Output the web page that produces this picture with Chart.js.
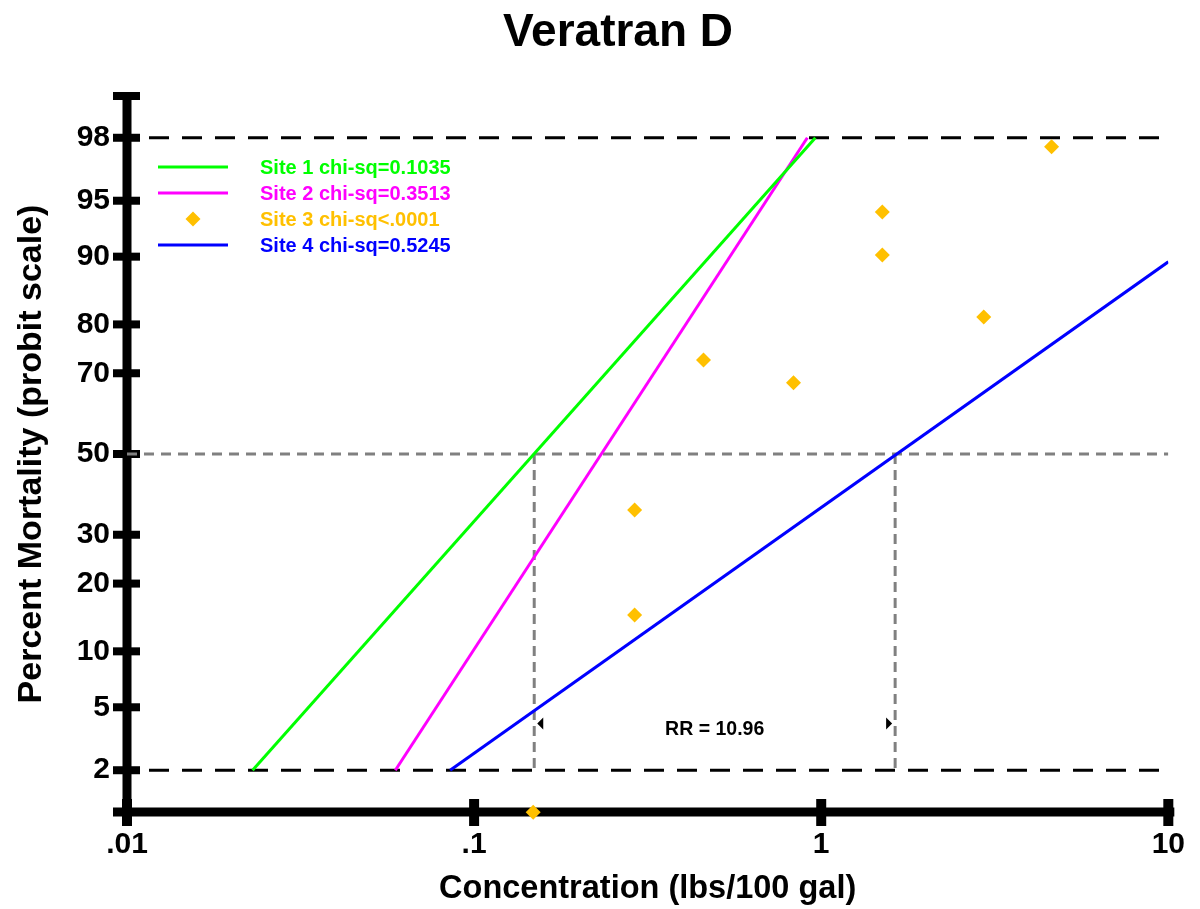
<!DOCTYPE html>
<html>
<head>
<meta charset="utf-8">
<title>Veratran D</title>
<script src="https://cdn.jsdelivr.net/npm/chart.js@4.4.1/dist/chart.umd.min.js"></script>
<style>
  html, body { margin: 0; padding: 0; background: #fff; }
  #wrap { width: 1200px; height: 909px; }
</style>
</head>
<body>
<div id="wrap"><canvas id="probitChart" width="1200" height="909"></canvas></div>
<script>
  /* =========================
     DATA
     ========================= */

  const chartTitle = "Veratran D";
  const siteLabels = [
    "Site 1 chi-sq=0.1035",
    "Site 2 chi-sq=0.3513",
    "Site 3 chi-sq<.0001",
    "Site 4 chi-sq=0.5245"
  ];
  const siteColors = ["#00ff00", "#ff00ff", "#ffc000", "#0000ff"];

  // fitted lines: [concentration, % mortality] at both ends
  const site1Line = [[0.0230, 2], [0.962, 98]];
  const site2Line = [[0.0593, 2], [0.912, 98]];
  const site4Line = [[0.0853, 2], [10, 89.4]];

  // site 3 observations
  const site3Conc = [0.148, 0.290, 0.290, 0.458, 0.832, 1.50, 1.50, 2.94, 4.61];
  const site3Mort = [1, 35.8, 14.8, 72.9, 67.8, 94.2, 90.2, 81.3, 97.7];

  // LC50 of site 1 and site 4, relative resistance
  const lc50 = [0.149, 1.633];
  const rrLabel = "RR = 10.96";

  const yTickPercents = [2, 5, 10, 20, 30, 50, 70, 80, 90, 95, 98];
  const xTickValues = [0.01, 0.1, 1, 10];
  const xTickLabels = [".01", ".1", "1", "10"];

  /* =========================
     PROBIT (inverse normal)
     ========================= */

  function probit(pct) {
    const p = pct / 100;
    const a = [-39.69683028665376, 220.9460984245205, -275.9285104469687, 138.3577518672690, -30.66479806614716, 2.506628277459239];
    const b = [-54.47609879822406, 161.5858368580409, -155.6989798598866, 66.80131188771972, -13.28068155288572];
    const c = [-0.007784894002430293, -0.3223964580411365, -2.400758277161838, -2.549732539343734, 4.374664141464968, 2.938163982698783];
    const d = [0.007784695709041462, 0.3224671290700398, 2.445134137142996, 3.754408661907416];
    const pl = 0.02425;
    let q, r;
    if (p < pl) {
      q = Math.sqrt(-2 * Math.log(p));
      return (((((c[0] * q + c[1]) * q + c[2]) * q + c[3]) * q + c[4]) * q + c[5]) /
        ((((d[0] * q + d[1]) * q + d[2]) * q + d[3]) * q + 1);
    }
    if (p > 1 - pl) {
      q = Math.sqrt(-2 * Math.log(1 - p));
      return -(((((c[0] * q + c[1]) * q + c[2]) * q + c[3]) * q + c[4]) * q + c[5]) /
        ((((d[0] * q + d[1]) * q + d[2]) * q + d[3]) * q + 1);
    }
    q = p - 0.5;
    r = q * q;
    return (((((a[0] * r + a[1]) * r + a[2]) * r + a[3]) * r + a[4]) * r + a[5]) * q /
      (((((b[0] * r + b[1]) * r + b[2]) * r + b[3]) * r + b[4]) * r + 1);
  }

  const toPoints = pairs => pairs.map(pt => ({ x: pt[0], y: probit(pt[1]) }));

  const FONT = "'Liberation Sans', Arial, Helvetica, sans-serif";

  /* =========================
     DATASETS
     ========================= */

  function lineSet(label, pairs, color) {
    return {
      label, type: "line", data: toPoints(pairs),
      borderColor: color, backgroundColor: color, borderWidth: 3,
      pointRadius: 0, showLine: true, inLegend: true
    };
  }

  function refLine(pairs, color, dash, offset) {
    return {
      type: "line", data: toPoints(pairs),
      borderColor: color, borderWidth: 3, borderDash: dash, borderDashOffset: offset,
      pointRadius: 0, showLine: true, inLegend: false
    };
  }

  const datasets = [
    lineSet(siteLabels[0], site1Line, siteColors[0]),
    lineSet(siteLabels[1], site2Line, siteColors[1]),
    {
      label: siteLabels[2], type: "scatter",
      data: site3Conc.map((c, i) => ({ x: c, y: probit(site3Mort[i]) })),
      pointStyle: "rectRot", pointRadius: 7.5, pointBorderWidth: 0,
      backgroundColor: siteColors[2], borderColor: siteColors[2],
      clip: 20, inLegend: true
    },
    lineSet(siteLabels[3], site4Line, siteColors[3]),
    refLine([[0.01, 98], [10, 98]], "#000", [20, 13], 11),
    refLine([[0.01, 2], [10, 2]], "#000", [20, 13], 11),
    refLine([[0.01, 50], [10, 50]], "#808080", [10, 7], 0),
    refLine([[lc50[0], 50], [lc50[0], 2]], "#808080", [10, 6], 0),
    refLine([[lc50[1], 50], [lc50[1], 2]], "#808080", [10, 6], 0)
  ];

  /* =========================
     PLUGINS: axes, legend, notes
     ========================= */

  const axesPlugin = {
    id: "axes",
    beforeDatasetsDraw(chart) {
      const { ctx, chartArea: ca, scales } = chart;
      ctx.save();
      ctx.fillStyle = "#000";
      // y axis bar with top cap
      ctx.fillRect(ca.left - 4.5, ca.top - 4, 9, ca.bottom - ca.top + 18);
      ctx.fillRect(ca.left - 14, ca.top - 4, 27, 8);
      yTickPercents.forEach(p => {
        const py = scales.y.getPixelForValue(probit(p));
        ctx.fillRect(ca.left - 14, py - 4, 27, 8);
      });
      // x axis bar
      ctx.fillRect(ca.left - 14, ca.bottom - 4.5, ca.right - ca.left + 20, 9);
      xTickValues.forEach(v => {
        const px = scales.x.getPixelForValue(v);
        ctx.fillRect(px - 5, ca.bottom - 13, 10, 27);
      });
      ctx.restore();
    },
    afterDraw(chart) {
      const { ctx, chartArea: ca, scales } = chart;
      ctx.save();

      // title
      ctx.fillStyle = "#000";
      ctx.font = "bold 46px " + FONT;
      ctx.textAlign = "center";
      ctx.textBaseline = "alphabetic";
      ctx.fillText(chartTitle, 618, 46);

      // legend
      ctx.font = "bold 20px " + FONT;
      ctx.textAlign = "left";
      ctx.textBaseline = "middle";
      let row = 0;
      chart.data.datasets.forEach(ds => {
        if (!ds.inLegend) return;
        const ly = ca.top + 71 + row * 26;
        const lx = ca.left + 31;
        ctx.fillStyle = ds.backgroundColor;
        ctx.strokeStyle = ds.borderColor;
        if (ds.type === "scatter") {
          ctx.beginPath();
          ctx.moveTo(lx + 35, ly - 7.5);
          ctx.lineTo(lx + 42.5, ly);
          ctx.lineTo(lx + 35, ly + 7.5);
          ctx.lineTo(lx + 27.5, ly);
          ctx.closePath();
          ctx.fill();
        } else {
          ctx.lineWidth = 3;
          ctx.beginPath();
          ctx.moveTo(lx, ly);
          ctx.lineTo(lx + 70, ly);
          ctx.stroke();
        }
        ctx.fillText(ds.label, lx + 102, ly + 1);
        row++;
      });

      // RR arrows and label
      const ay = scales.y.getPixelForValue(probit(4));
      const x1 = scales.x.getPixelForValue(lc50[0]);
      const x2 = scales.x.getPixelForValue(lc50[1]);
      ctx.fillStyle = "#000";
      ctx.beginPath();
      ctx.moveTo(x1 + 3, ay);
      ctx.lineTo(x1 + 9, ay - 6);
      ctx.lineTo(x1 + 9, ay + 6);
      ctx.closePath();
      ctx.fill();
      ctx.beginPath();
      ctx.moveTo(x2 - 3, ay);
      ctx.lineTo(x2 - 9, ay - 6);
      ctx.lineTo(x2 - 9, ay + 6);
      ctx.closePath();
      ctx.fill();
      ctx.font = "bold 19.5px " + FONT;
      ctx.textAlign = "center";
      ctx.fillText(rrLabel, (x1 + x2) / 2, ay + 6);

      ctx.restore();
    }
  };

  /* =========================
     CHART
     ========================= */

  const ctx = document.getElementById("probitChart");

  new Chart(ctx, {
    type: "scatter",
    data: { datasets },
    options: {
      responsive: false,
      animation: false,
      devicePixelRatio: 1,
      layout: { padding: { top: 96, right: 26, left: 0, bottom: 0 } },
      plugins: {
        legend: { display: false },
        title: { display: false },
        tooltip: { enabled: false }
      },
      scales: {
        x: {
          type: "logarithmic",
          min: 0.01,
          max: 10,
          afterBuildTicks: s => { s.ticks = xTickValues.map(v => ({ value: v })); },
          afterFit: s => { s.height = 97; },
          grid: { display: false, drawTicks: false },
          border: { display: false },
          ticks: {
            callback: (v, i) => xTickLabels[i],
            font: { family: FONT, size: 30, weight: "bold" },
            color: "#000",
            padding: 15,
            maxRotation: 0,
            autoSkip: false
          },
          title: {
            display: true,
            text: "Concentration (lbs/100 gal)",
            font: { family: FONT, size: 32.5, weight: "bold" },
            color: "#000",
            padding: { top: 0, bottom: 0 }
          }
        },
        y: {
          type: "linear",
          min: -2.325,
          max: 2.325,
          afterBuildTicks: s => { s.ticks = yTickPercents.map(p => ({ value: probit(p) })); },
          afterFit: s => { s.width = 127; },
          grid: { display: false, drawTicks: false },
          border: { display: false },
          ticks: {
            callback: (v, i) => String(yTickPercents[i]),
            font: { family: FONT, size: 30, weight: "bold" },
            color: "#000",
            padding: 17,
            autoSkip: false
          },
          title: {
            display: true,
            text: "Percent Mortality (probit scale)",
            font: { family: FONT, size: 34, weight: "bold" },
            color: "#000",
            padding: { top: 11, bottom: 0 }
          }
        }
      }
    },
    plugins: [axesPlugin]
  });
</script>
</body>
</html>
